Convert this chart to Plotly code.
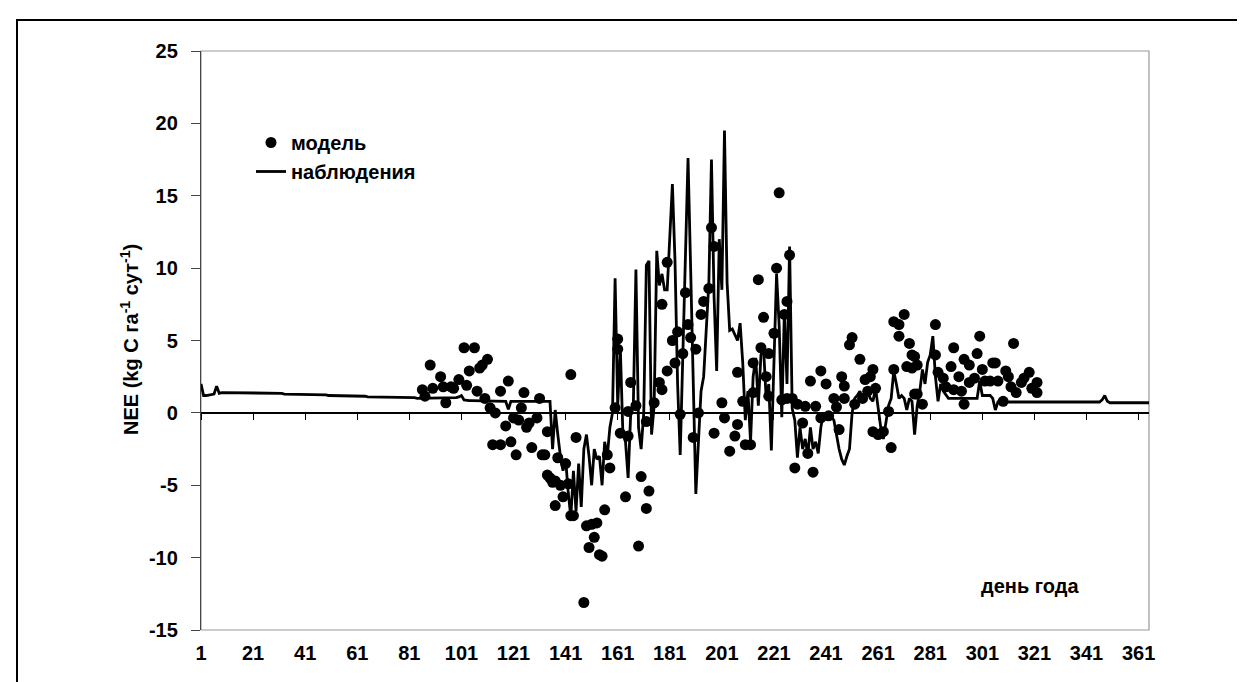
import plotly.graph_objects as go

# ---------------- data ----------------
DAY_TICKS = [1, 21, 41, 61, 81, 101, 121, 141, 161, 181, 201, 221, 241, 261, 281, 301, 321, 341, 361]
Y_TICKS = [-15, -10, -5, 0, 5, 10, 15, 20, 25]

# observed NEE ("наблюдения"), one value per day 1..365
obs_days = list(range(1, 366))
obs_nee = [
    # 1-10
    2.0, 1.2, 1.2, 1.25, 1.3, 1.3, 1.85, 1.35, 1.4, 1.4,
    # 11-20
    1.4, 1.4, 1.4, 1.4, 1.4, 1.4, 1.4, 1.4, 1.4, 1.4,
    # 21-30
    1.4, 1.4, 1.4, 1.4, 1.35, 1.35, 1.35, 1.35, 1.35, 1.35,
    # 31-40
    1.35, 1.35, 1.3, 1.3, 1.3, 1.3, 1.3, 1.3, 1.3, 1.3,
    # 41-50
    1.3, 1.25, 1.25, 1.25, 1.25, 1.25, 1.25, 1.25, 1.25, 1.2,
    # 51-60
    1.2, 1.2, 1.2, 1.2, 1.2, 1.15, 1.15, 1.15, 1.15, 1.15,
    # 61-70
    1.15, 1.15, 1.15, 1.15, 1.1, 1.1, 1.1, 1.1, 1.1, 1.1,
    # 71-80
    1.1, 1.1, 1.1, 1.05, 1.05, 1.05, 1.05, 1.05, 1.05, 1.05,
    # 81-90
    1.05, 1.05, 1.05, 1.0, 1.0, 1.0, 1.0, 1.0, 1.0, 1.0,
    # 91-100
    1.0, 1.0, 1.0, 1.0, 1.0, 1.0, 1.0, 1.0, 1.05, 1.1,
    # 101-110
    1.2, 0.9, 0.85, 0.85, 0.85, 0.85, 0.85, 0.85, 0.85, 0.85,
    # 111-120
    0.85, 0.85, 0.85, 0.85, 0.85, 0.85, 0.85, 0.8, 0.25, 0.8,
    # 121-130
    0.8, 0.8, 0.8, 0.8, 0.8, 0.8, 0.8, 0.8, 0.8, 0.8,
    # 131-140
    0.8, 0.8, 0.8, 0.8, 0.8, -2.5, 0.2, -1.5, -3.0, -4.0,
    # 141-150
    -3.2, -5.5, -7.2, -4.0, -6.8, -3.5, -6.5, -2.5, -1.5, -3.0,
    # 151-160
    -5.0, -2.5, -3.2, -3.0, -5.0, -2.0, -3.0, -1.0, 0.0, 9.3,
    # 161-170
    0.5, 4.5, -1.5, -2.0, -4.5, 0.0, 0.5, 9.9, -1.0, -2.5,
    # 171-180
    0.0, 10.2, 10.5, -1.5, 0.5, 11.2, 8.8, 9.6, 8.5, 8.5,
    # 181-190
    12.0, 15.8, 10.5, 2.0, -2.9, 4.0, 12.5, 17.6, 10.0, 1.0,
    # 191-200
    -5.6, -2.0, 1.5, 2.5, 6.0, 9.0, 17.5, 8.0, 2.9, 12.0,
    # 201-210
    8.5, 19.5, 9.0, 5.7, 5.8, 5.4, 5.0, 6.2, 3.5, -0.5,
    # 211-220
    1.5, -2.0, 2.5, 3.8, 0.5, 4.0, 4.5, 1.0, 2.0, -2.6,
    # 221-230
    3.0, 9.6, 6.0, -0.3, 7.0, 2.0, 11.5, 0.3, -0.5, -3.1,
    # 231-240
    -1.0, -2.5, -1.8, -2.9, -1.0, -2.5, -2.0, -2.8, -1.0, 0.0,
    # 241-250
    -0.5, 0.0, -0.3, -0.5, -1.5, -2.5, -3.2, -3.6, -3.0, -2.5,
    # 251-260
    0.0, 1.0, 1.2, 1.5, 1.0, 1.2, 1.4, 1.0, 0.8, 1.7,
    # 261-270
    0.5, -1.0, -1.8, -0.5, 0.5, 1.0, 2.9, 2.0, 1.0, 1.2,
    # 271-280
    1.0, 0.2, 1.0, 0.8, -1.5, 0.5, 1.5, 3.0, 2.0, 3.5,
    # 281-290
    4.0, 5.3, 2.5, 0.8, 2.0, 1.5, 1.2, 1.0, 1.0, 1.0,
    # 291-300
    1.0, 1.0, 1.0, 1.0, 1.0, 1.0, 1.0, 1.0, 1.0, 2.2,
    # 301-310
    1.2, 1.2, 1.2, 1.2, 1.0, 0.2, 0.75, 0.75, 0.75, 0.75,
    # 311-320
    0.75, 0.75, 0.75, 0.75, 0.75, 0.75, 0.75, 0.75, 0.75, 0.75,
    # 321-330
    0.75, 0.75, 0.75, 0.75, 0.75, 0.75, 0.75, 0.75, 0.75, 0.75,
    # 331-340
    0.75, 0.75, 0.75, 0.75, 0.75, 0.75, 0.75, 0.7, 0.7, 0.7,
    # 341-350
    0.7, 0.7, 0.7, 0.7, 0.7, 0.75, 0.9, 1.2, 0.8, 0.7,
    # 351-360
    0.7, 0.7, 0.7, 0.7, 0.7, 0.7, 0.7, 0.7, 0.7, 0.7,
    # 361-365
    0.7, 0.7, 0.7, 0.7, 0.7,
]

# modelled NEE ("модель"), read point by point
model_days = [
    86, 87, 89, 90, 93, 94, 95, 97, 98, 100,
    102, 103, 104, 106, 107, 108, 109, 110, 111, 112,
    113, 114, 116, 116, 118, 119, 120, 121, 122, 123,
    124, 125, 126, 127, 128, 130, 131, 132, 133, 134,
    134, 135, 136, 137, 137, 138, 139, 140, 141, 142,
    143, 143, 144, 145, 148, 149, 150, 151, 152, 153,
    154, 155, 156, 157, 158, 160, 161, 161, 162, 164,
    165, 165, 166, 168, 169, 170, 172, 172, 173, 175,
    177, 178, 178, 180, 180, 182, 183, 184, 185, 186,
    187, 188, 189, 190, 191, 192, 193, 194, 196, 197,
    198, 198, 201, 202, 204, 206, 207, 207, 209, 210,
    212, 213, 213, 215, 216, 217, 218, 219, 219, 221,
    222, 223, 224, 225, 226, 226, 227, 228, 229, 230,
    232, 233, 234, 235, 236, 237, 239, 239, 241, 242,
    244, 245, 246, 247, 248, 248, 250, 251, 252, 254,
    255, 256, 257, 258, 259, 260, 259, 261, 263, 265,
    266, 267, 267, 269, 269, 271, 272, 273, 274, 274,
    275, 275, 276, 276, 278, 283, 283, 284, 286, 287,
    289, 290, 290, 292, 293, 294, 294, 296, 296, 298,
    299, 300, 301, 302, 304, 305, 306, 307, 309, 310,
    311, 313, 312, 314, 316, 317, 319, 320, 322, 322,
]
model_nee = [
    1.6, 1.15, 3.3, 1.7, 2.5, 1.8, 0.7, 1.8, 1.7, 2.3,
    4.5, 1.9, 2.9, 4.5, 1.5, 3.1, 3.3, 1.0, 3.7, 0.35,
    -2.2, 0.0, 1.5, -2.2, -0.9, 2.2, -2.0, -0.35, -2.9, -0.5,
    0.35, 1.4, -1.0, -0.7, -2.4, -0.35, 1.0, -2.9, -2.9, -1.3,
    -4.3, -4.5, -4.8, -6.4, -4.7, -3.1, -5.0, -5.8, -3.5, -4.9,
    2.65, -7.1, -7.1, -1.7, -13.1, -7.8, -9.3, -7.7, -8.6, -7.6,
    -9.8, -9.9, -6.7, -2.9, -3.8, 0.35, 4.4, 5.1, -1.4, -5.8,
    -1.6, 0.1, 2.1, 0.5, -9.2, -4.4, -0.6, -6.6, -5.4, 0.7,
    2.1, 1.6, 7.5, 2.9, 10.4, 5.0, 3.45, 5.6, -0.1, 4.1,
    8.3, 6.1, 5.2, -1.7, 4.4, 0.0, 6.8, 7.7, 8.6, 12.8,
    11.5, -1.4, 0.7, -0.35, -2.65, -1.6, 2.8, -0.8, 0.8, -2.2,
    -2.2, 3.45, 1.4, 9.2, 4.5, 6.6, 2.5, 1.15, 4.1, 5.5,
    10.0, 15.2, 0.9, 6.8, 7.7, 1.0, 10.9, 1.0, -3.8, 0.6,
    -0.7, 0.45, -2.8, 2.2, -4.1, 0.45, 2.9, -0.35, 2.0, -0.2,
    1.0, 0.4, -1.15, 2.5, 1.0, 1.85, 4.7, 5.2, 0.6, 3.7,
    1.0, 2.3, 1.5, 2.5, 3.0, 1.7, -1.3, -1.5, -1.3, 0.1,
    -2.4, 3.0, 6.3, 5.3, 6.1, 6.8, 3.2, 4.8, 4.0, 3.1,
    1.3, 3.9, 3.3, 1.3, 0.6, 6.1, 4.0, 2.8, 2.4, 1.8,
    3.2, 4.5, 1.6, 2.5, 1.5, 0.6, 3.7, 2.1, 3.3, 2.4,
    4.1, 5.3, 3.0, 2.2, 2.2, 3.45, 3.45, 2.2, 0.8, 2.9,
    2.5, 4.8, 1.8, 1.4, 2.1, 2.4, 2.8, 1.7, 2.1, 1.4,
]

SERIES_MODEL = "модель"
SERIES_OBS = "наблюдения"
Y_TITLE = "NEE (kg C га<sup>-1</sup> сут<sup>-1</sup>)"
X_NOTE = "день года"

# ---------------- figure ----------------
FONT = "Liberation Sans, Arial, sans-serif"
W, H = 1245, 682
ML, MR, MT, MB = 193, 104, 43, 60
PW, PH = W - ML - MR, H - MT - MB


def px_to_paper_x(px):
    return (px - ML) / PW


def px_to_paper_y(py):
    return (H - MB - py) / PH


fig = go.Figure()

fig.add_trace(go.Scatter(
    x=model_days, y=model_nee, mode="markers", name=SERIES_MODEL,
    marker=dict(color="black", size=11, line=dict(width=0)),
    xaxis="x", yaxis="y",
))
fig.add_trace(go.Scatter(
    x=obs_days, y=obs_nee, mode="lines", name=SERIES_OBS,
    line=dict(color="black", width=2.8),
    xaxis="x2", yaxis="y",
))

tickfont = dict(family=FONT, size=20, color="black", weight="bold")

fig.update_layout(
    width=W, height=H,
    margin=dict(l=ML, r=MR, t=MT, b=MB),
    paper_bgcolor="white", plot_bgcolor="white",
    showlegend=True,
    legend=dict(
        x=px_to_paper_x(243), y=px_to_paper_y(115), xanchor="left", yanchor="top",
        font=dict(family=FONT, size=20, color="black", weight="bold"),
        bgcolor="rgba(0,0,0,0)", itemwidth=30, tracegroupgap=0,
    ),
    xaxis=dict(
        range=[1, 365], tickmode="array", tickvals=DAY_TICKS,
        ticktext=[str(d) for d in DAY_TICKS],
        ticks="", showline=False, showgrid=False, zeroline=False,
        tickfont=tickfont, ticklabelstandoff=9,
    ),
    xaxis2=dict(
        range=[1, 365], overlaying="x", anchor="free", position=15 / 40,
        tickmode="array", tickvals=DAY_TICKS, ticks="outside", ticklen=6,
        tickcolor="black", tickwidth=1, showticklabels=False,
        showline=False, showgrid=False, zeroline=False,
    ),
    yaxis=dict(
        range=[-15, 25], tickmode="array", tickvals=Y_TICKS,
        ticktext=[str(v) for v in Y_TICKS],
        ticks="outside", ticklen=9, tickcolor="#444", tickwidth=1.2,
        showline=True, linecolor="#444", linewidth=1.3,
        showgrid=False, zeroline=True, zerolinecolor="black", zerolinewidth=1.5,
        tickfont=tickfont, ticklabelstandoff=9,
    ),
    shapes=[
        dict(type="rect", xref="paper", yref="paper", x0=0, x1=1, y0=0, y1=1,
             line=dict(color="#999", width=1.2), layer="below"),
        dict(type="rect", xref="paper", yref="paper",
             x0=px_to_paper_x(9), x1=px_to_paper_x(1242),
             y0=px_to_paper_y(681), y1=px_to_paper_y(12),
             line=dict(color="black", width=2)),
    ],
    annotations=[
        dict(text=Y_TITLE, xref="paper", yref="paper",
             x=px_to_paper_x(121), y=px_to_paper_y(332), textangle=-90,
             showarrow=False, xanchor="center", yanchor="middle",
             font=dict(family=FONT, size=20, color="black", weight="bold")),
        dict(text=X_NOTE, xref="paper", yref="paper",
             x=px_to_paper_x(1022), y=px_to_paper_y(578),
             showarrow=False, xanchor="center", yanchor="middle",
             font=dict(family=FONT, size=20, color="black", weight="bold")),
    ],
)

fig.write_html("out.html")
